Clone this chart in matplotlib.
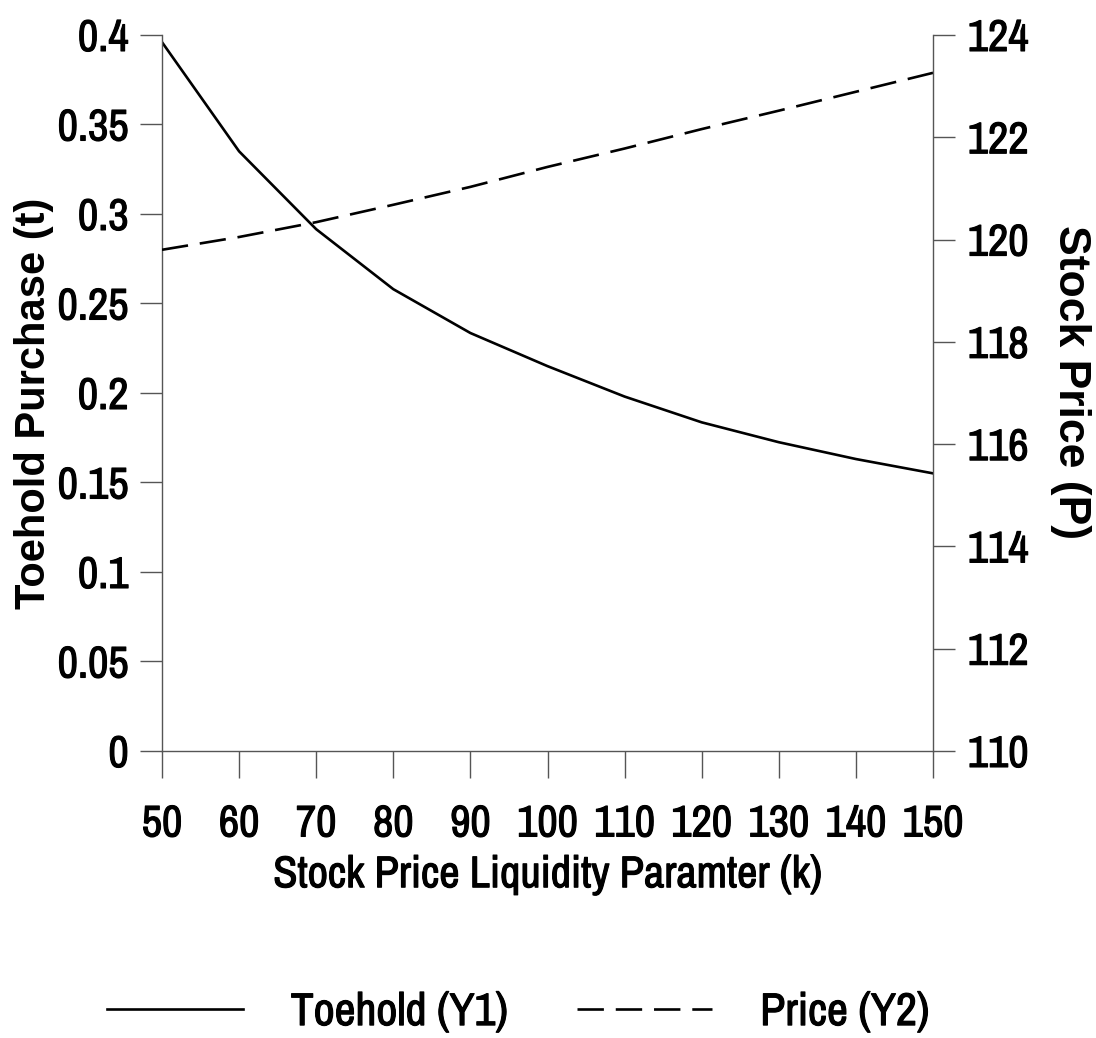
import matplotlib
matplotlib.use("Agg")
import matplotlib.pyplot as plt
import matplotlib.patheffects as pe

# data
k = [50, 60, 70, 80, 90, 100, 110, 120, 130, 140, 150]
toehold = [0.396, 0.335, 0.2915, 0.258, 0.2335, 0.2150, 0.198, 0.1836, 0.1725, 0.1631, 0.1551]
price = [119.80, 120.05, 120.34, 120.68, 121.03, 121.42, 121.78, 122.16, 122.52, 122.89, 123.26]

y1_ticks = [0, 0.05, 0.1, 0.15, 0.2, 0.25, 0.3, 0.35, 0.4]
y1_labels = ["0", "0.05", "0.1", "0.15", "0.2", "0.25", "0.3", "0.35", "0.4"]
y2_ticks = [110, 112, 114, 116, 118, 120, 122, 124]

narrow = ["Archivo Narrow", "Liberation Sans", "DejaVu Sans"]
wide = ["Liberation Sans", "DejaVu Sans"]
axis_col = "#555555"
heavy = [pe.withStroke(linewidth=0.8, foreground="black")]

fig = plt.figure(figsize=(10.96, 10.38), dpi=100)
ax = fig.add_axes([0.1478, 0.2765, 0.7035, 0.6898])
ax2 = ax.twinx()

# ------------------------------------------
# Lines
# ------------------------------------------
l1, = ax.plot(k, toehold, color="black", lw=1.9, label="Toehold (Y1)")
l2, = ax2.plot(k, price, color="black", lw=1.9, dashes=(10, 4.5), label="Price (Y2)")

ax.set_xlim(50, 150)
ax.set_ylim(0, 0.4)
ax2.set_ylim(110, 124)

ax.set_xticks(k)
ax.set_yticks(y1_ticks)
ax.set_yticklabels(y1_labels)
ax2.set_yticks(y2_ticks)

# ------------------------------------------
# Spines and ticks
# ------------------------------------------
for a in (ax, ax2):
    a.spines["top"].set_visible(False)
    for s in ("left", "right", "bottom"):
        a.spines[s].set_color(axis_col)
        a.spines[s].set_linewidth(1.0)
ax.spines["right"].set_visible(False)
ax2.spines["left"].set_visible(False)
ax2.spines["bottom"].set_visible(False)

ax.tick_params(axis="x", direction="out", length=19.5, width=1.0, color=axis_col, pad=19,
               labelsize=32, labelfontfamily=narrow)
ax.tick_params(axis="y", direction="out", length=16, width=1.0, color=axis_col, pad=8,
               labelsize=32, labelfontfamily=narrow)
ax2.tick_params(axis="y", direction="out", length=16, width=1.0, color=axis_col, pad=9,
                labelsize=32, labelfontfamily=narrow)

ax.set_xlabel("Stock Price Liquidity Paramter (k)", family=narrow, fontsize=32, labelpad=7,
              path_effects=heavy)
ax.set_ylabel("Toehold Purchase (t)", family=wide, fontsize=30, fontweight="bold")
ax.yaxis.set_label_coords(-0.140, 0.485)
ax2.set_ylabel("Stock Price (P)", family=wide, fontsize=32, fontweight="bold", rotation=270)
ax2.yaxis.set_label_coords(1.205, 0.515)

# ------------------------------------------
# Legend
# ------------------------------------------
leg = fig.legend(handles=[l1, l2], loc="lower center", ncol=2, frameon=False,
                 bbox_to_anchor=(0.473, -0.035), handlelength=2.95, handletextpad=1.05,
                 columnspacing=1.5, prop={"family": narrow, "size": 33})
for t in leg.get_texts():
    t.set_path_effects(heavy)

fig.canvas.draw()
for lab in ax.get_xticklabels() + ax.get_yticklabels() + ax2.get_yticklabels():
    lab.set_path_effects(heavy)

fig.savefig("out.png", dpi=100)
